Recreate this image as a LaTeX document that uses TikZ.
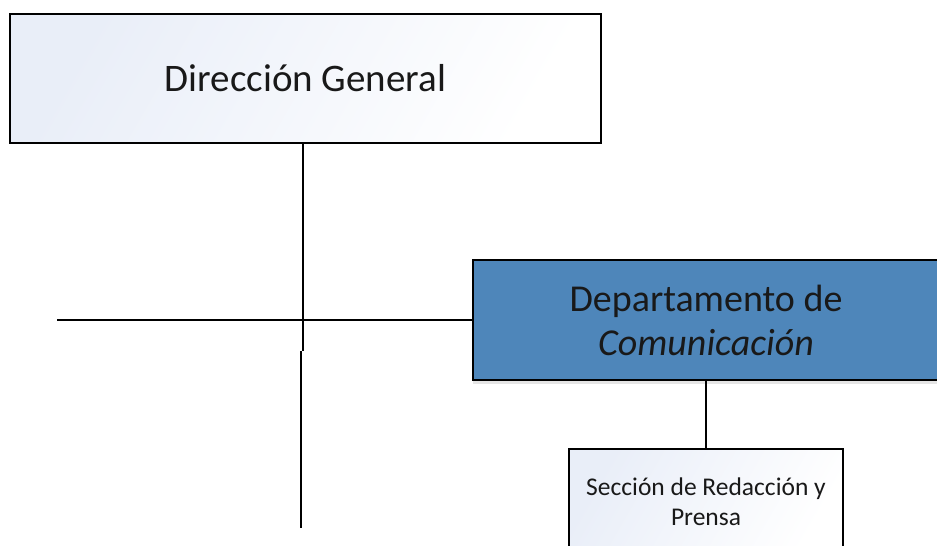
\documentclass[tikz,border=0pt]{standalone}
\usepackage{fontspec}
\setmainfont{Carlito}
\usepackage{xcolor}
\usetikzlibrary{positioning,shadows}

\definecolor{deptblue}{HTML}{4E86BA}
\definecolor{boxtint}{HTML}{E9EEF8}

\tikzset{
    unitbox/.style={draw=black, line width=2pt, align=center, inner sep=0pt, text=black!90},
    paleunit/.style={unitbox, left color=boxtint, right color=white, shading angle=60},
    orgline/.style={draw=black, line width=2.5pt}
}

\begin{document}
\begin{tikzpicture}[x=1pt, y=-1pt]
\clip (0,0) rectangle (937,546);
\fill[white] (0,0) rectangle (937,546);

\node[paleunit, minimum width=591pt, minimum height=129pt, font=\fontsize{39}{44}\selectfont]
    (dg) at (305.5,78.5) {Dirección General};
\node[unitbox, fill=deptblue, minimum width=466pt, minimum height=120pt,
      font=\fontsize{38}{44}\selectfont,
      drop shadow={opacity=0.2, shadow xshift=0pt, shadow yshift=-4pt}]
    (dept) at (706,320) {Departamento de\\\textit{Comunicación}};
\node[paleunit, minimum width=274pt, minimum height=106pt, font=\fontsize{25.5}{30}\selectfont]
    (sec) at (706,502) {Sección de Redacción y\\Prensa};

\coordinate (brk) at (303,351);
\coordinate (brkl) at (301,351);
\coordinate (tail) at (301,528);
\coordinate (lend) at (57,320);

\draw[orgline] (dg.south -| brk) -- (brk);
\draw[orgline] (brkl) -- (tail);
\draw[orgline] (lend) -- (dept.west);
\draw[orgline] (dept.south) -- (sec.north);
\end{tikzpicture}
\end{document}
